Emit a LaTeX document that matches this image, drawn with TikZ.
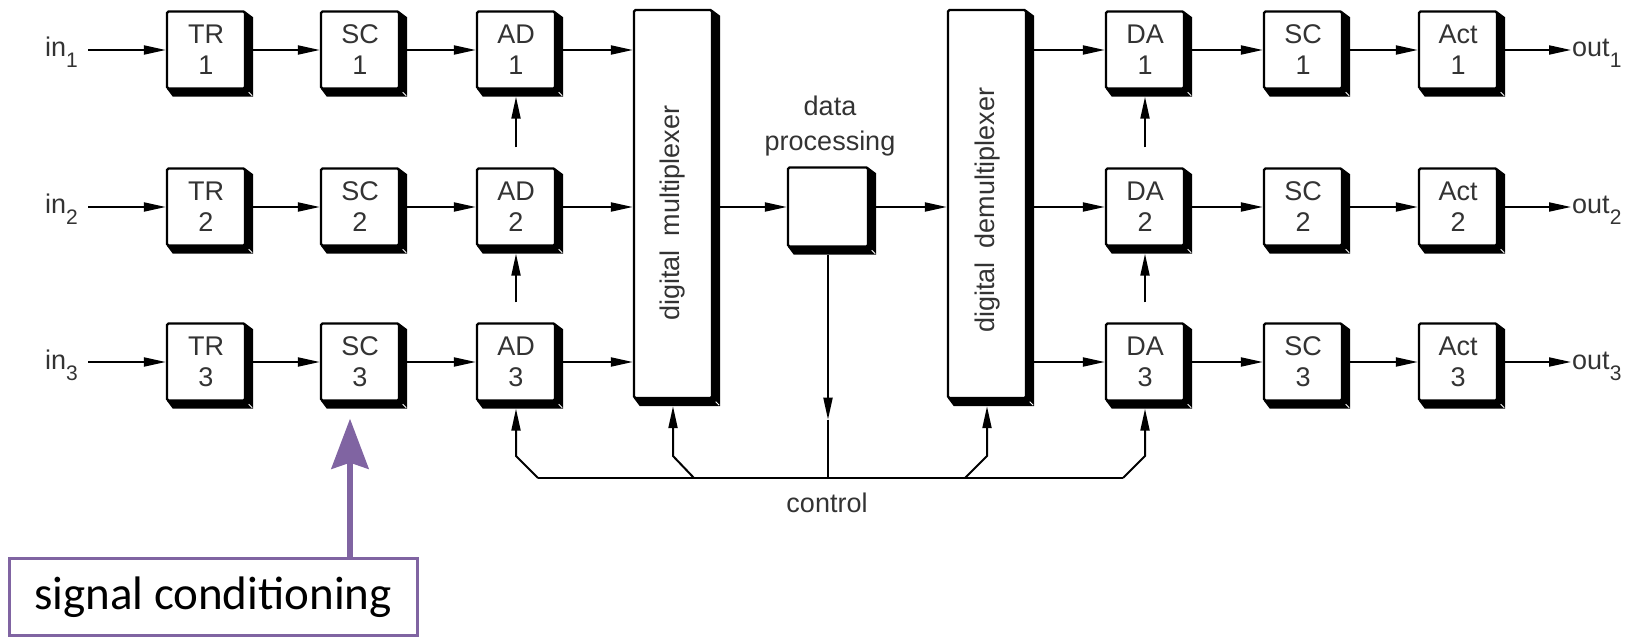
\documentclass[tikz,border=0pt]{standalone}
\usepackage{fontspec}
\setmainfont{Liberation Sans}
\newfontfamily\calib{Carlito}
\usetikzlibrary{arrows.meta,calc}
\definecolor{purp}{HTML}{8064A2}
\definecolor{txt}{HTML}{333333}
\begin{document}
\begin{tikzpicture}[x=1pt,y=-1pt,
  blk/.style={draw, line width=2.4pt, fill=white, rounded corners=1.5pt, minimum width=78pt, minimum height=77pt, inner sep=0pt, align=center, font=\fontsize{27}{31}\selectfont, text=txt},
  tall/.style={blk, minimum height=388pt},
  conn/.style={line width=2pt, -{Triangle[length=22pt,width=9pt]}},
  wire/.style={line width=2pt},
  lbl/.style={font=\fontsize{27}{35}\selectfont, text=txt, inner sep=1pt}]
\useasboundingbox (0,0) rectangle (1633,639);

% central boxes
\node[tall] (mux) at (673,204) {};
\node[tall] (demux) at (987,204) {};
\node[blk, minimum width=80pt, minimum height=79pt] (dp) at (828,207) {};
\node[lbl, rotate=90] (muxl) at (673,213) {digital\hspace{14pt}multiplexer};
\node[lbl, rotate=90] (demuxl) at (988,210) {digital\hspace{14pt}demultiplexer};
\node[lbl, align=center] (dpl) at (830,126) {data\\processing};

\foreach \i/\y in {1/50,2/207,3/362} {
  \node[blk] (TR\i) at (206,\y) {TR\\\i};
  \node[blk] (SC\i) at (360,\y) {SC\\\i};
  \node[blk] (AD\i) at (516,\y) {AD\\\i};
  \node[blk] (DA\i) at (1145,\y) {DA\\\i};
  \node[blk] (SO\i) at (1303,\y) {SC\\\i};
  \node[blk] (Act\i) at (1458,\y) {Act\\\i};
  \node[lbl, anchor=base east, inner sep=2pt] (in\i) at (80,\y+7) {in\raisebox{-11pt}{\fontsize{21}{21}\selectfont\i}};
  \node[lbl, anchor=base west, inner sep=1pt] (out\i) at (1571,\y+7) {out\raisebox{-11pt}{\fontsize{21}{21}\selectfont\i}};
  \draw[conn] ([xshift=8pt]in\i.east |- TR\i.west) -- (TR\i.west);
  \draw[conn] ([xshift=7pt]TR\i.east) -- (SC\i.west);
  \draw[conn] ([xshift=7pt]SC\i.east) -- (AD\i.west);
  \draw[conn] ([xshift=7pt]AD\i.east) -- (AD\i.east -| mux.west);
  \draw[conn] ([xshift=7pt]demux.east |- DA\i.west) -- (DA\i.west);
  \draw[conn] ([xshift=7pt]DA\i.east) -- (SO\i.west);
  \draw[conn] ([xshift=7pt]SO\i.east) -- (Act\i.west);
  \draw[conn] ([xshift=7pt]Act\i.east) -- (Act\i.east -| out\i.west);
}

% shadows (L-shaped bevelled band on the right and bottom)
\foreach \n in {TR1,TR2,TR3,SC1,SC2,SC3,AD1,AD2,AD3,DA1,DA2,DA3,SO1,SO2,SO3,Act1,Act2,Act3,mux,demux,dp} {
  \fill ($(\n.north east)+(-1,1)$) -- ($(\n.north east)+(7,7)$) -- ($(\n.south east)+(7,7)$) -- ($(\n.south west)+(7,7)$) -- ($(\n.south west)+(1,-1)$) -- ($(\n.south east)+(-1,-1)$) -- cycle;
  \draw[white, line width=1pt] ($(\n.south east)+(2.5,2.5)$) -- ($(\n.south east)+(6,6)$);
}

% vertical links between converters
\draw[conn] ($(AD2.north)+(0,-20)$) -- ($(AD1.south)+(0,7)$);
\draw[conn] ($(AD3.north)+(0,-20)$) -- ($(AD2.south)+(0,7)$);
\draw[conn] ($(DA2.north)+(0,-20)$) -- ($(DA1.south)+(0,7)$);
\draw[conn] ($(DA3.north)+(0,-20)$) -- ($(DA2.south)+(0,7)$);

% row 2 through the processor
\draw[conn] ([xshift=7pt]mux.east |- dp.west) -- (dp.west);
\draw[conn] ([xshift=7pt]dp.east) -- (dp.east -| demux.west);

% control bus
\coordinate (busL) at (538,478);
\coordinate (busR) at (1123,478);
\coordinate (bmux) at (694,478);
\coordinate (bdem) at (965,478);
\coordinate (dpm) at ($(dp.south)+(0,172)$);
\draw[wire] (busL) -- (busR);
\draw[conn] (busL) -- ++(-22,-22) -- ($(AD3.south)+(0,7)$);
\draw[conn] (bmux) -- ++(-21,-22) -- ($(mux.south)+(0,7)$);
\draw[conn] (bdem) -- ++(22,-22) -- ($(demux.south)+(0,7)$);
\draw[conn] (busR) -- ++(22,-22) -- ($(DA3.south)+(0,7)$);
\draw[conn] ($(dp.south)+(0,7)$) -- (dpm);
\draw[wire] (dpm) -- (dpm |- busL);
\node[lbl] (ctl) at (827,503) {control};

% annotation
\node[draw=purp, line width=3pt, minimum width=408pt, minimum height=77pt, inner sep=0pt, font=\calib\fontsize{47}{47}\selectfont] (sig) at (213,597) {signal conditioning};
\coordinate (pt) at ($(SC3.south)+(-10,17)$);
\draw[purp, line width=6pt, -{Stealth[length=50pt,width=37pt,inset=6pt]}] (pt |- sig.north) -- (pt);
\end{tikzpicture}
\end{document}
